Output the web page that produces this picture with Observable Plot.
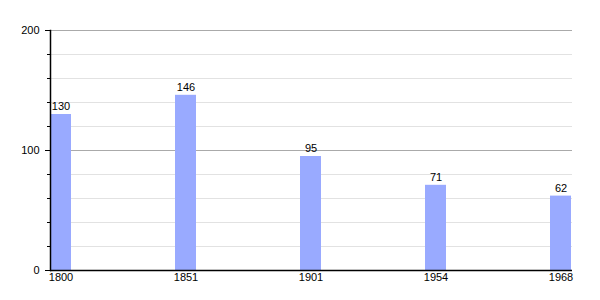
<!DOCTYPE html>
<html>
<head>
<meta charset="utf-8">
<script src="https://cdn.jsdelivr.net/npm/d3@7"></script>
<script src="https://cdn.jsdelivr.net/npm/@observablehq/plot@0.6"></script>
<style>
  html, body { margin: 0; padding: 0; background: #fff; }
  #chart { width: 600px; height: 300px; }
</style>
</head>
<body>
<div id="chart"></div>
<script>
const years = ["1800", "1851", "1901", "1954", "1968"];
const population = [130, 146, 95, 71, 62];
const majorTicks = [0, 100, 200];
const minorTicks = [20, 40, 60, 80, 120, 140, 160, 180];

const data = years.map((year, i) => ({ year, value: population[i] }));

const chart = Plot.plot({
  width: 600,
  height: 300,
  marginLeft: 50,
  marginRight: 28,
  marginTop: 30,
  marginBottom: 30,
  style: { fontFamily: "'Liberation Sans', Arial, sans-serif", fontSize: "11px", color: "#000", background: "#fff" },
  x: { domain: years, paddingInner: 0.832, paddingOuter: 0, align: 0, label: null },
  y: { domain: [0, 200], label: null },
  marks: [
    Plot.ruleY(minorTicks, { stroke: "#e2e2e2", strokeWidth: 1 }),
    Plot.ruleY([100, 200], { stroke: "#aaaaaa", strokeWidth: 1 }),
    Plot.barY(data, { x: "year", y: "value", fill: "#99aaff", insetLeft: 0, insetRight: 0 }),
    Plot.text(data, { x: "year", y: "value", text: d => String(d.value), dy: -8, fill: "#000", fontSize: 11 }),
    Plot.axisY({ ticks: majorTicks, tickSize: 5, tickPadding: 6, tickFormat: d => String(d), label: null, stroke: "#000", fill: "#000" }),
    Plot.axisY({ ticks: minorTicks, tickSize: 3, tickFormat: null, text: null, label: null, stroke: "#000" }),
    Plot.axisX({ tickSize: 0, tickPadding: 3, label: null, fill: "#000" }),
    Plot.ruleY([0], { stroke: "#000", strokeWidth: 1.5 }),
    Plot.frame({ anchor: "left", stroke: "#000", strokeWidth: 1.5 })
  ]
});
document.getElementById("chart").appendChild(chart);
</script>
</body>
</html>
